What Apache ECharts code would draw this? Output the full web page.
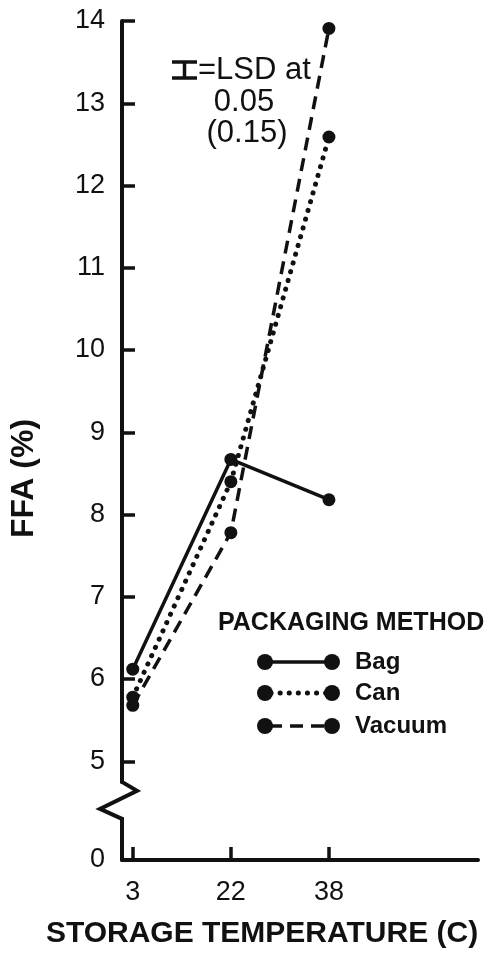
<!DOCTYPE html>
<html>
<head>
<meta charset="utf-8">
<script src="https://cdn.jsdelivr.net/npm/echarts@6/dist/echarts.min.js"></script>
<style>
html, body { margin: 0; padding: 0; background: #fff; }
#chart { width: 496px; height: 954px; }
</style>
</head>
<body>
<div id="chart"></div>
<script>
// storage temperature categories (C)
const temps = ['3', '22', '38'];
// FFA (%) per packaging method
const bag = [6.12, 8.67, 8.18];
const can = [5.78, 8.4, 12.59];
const vacuum = [5.68, 7.78, 13.91];
const yLabels = [0, 5, 6, 7, 8, 9, 10, 11, 12, 13, 14];
const yTicks = [5, 6, 7, 8, 9, 10, 11, 12, 13, 14];

const FONT = 'Liberation Sans';
const INK = '#111';
const X_MIN = -0.11;

// line style per method, reused by the hand-drawn legend
const methods = [
    { name: 'Bag', data: bag, line: { type: 'solid', width: 3.5 } },
    { name: 'Can', data: can, line: { type: [0.1, 9], width: 5, cap: 'round' } },
    { name: 'Vacuum', data: vacuum, line: { type: [13, 8], width: 3.5 } },
];

const chart = echarts.init(document.getElementById('chart'));

const option = {
    animation: false,
    grid: { left: 119, right: 18, top: 21, bottom: 92 },
    xAxis: {
        type: 'value',
        min: X_MIN,
        max: 3.52,
        name: 'STORAGE TEMPERATURE (C)',
        nameLocation: 'middle',
        nameGap: 59,
        nameTextStyle: { fontFamily: FONT, fontWeight: 'bold', fontSize: 30, color: INK, padding: [0, 76, 0, 0] },
        axisLine: { onZero: false, lineStyle: { color: INK, width: 4 } },
        axisTick: { inside: true, length: 13, lineStyle: { color: INK, width: 3.5 }, customValues: [0, 1, 2] },
        axisLabel: {
            customValues: [0, 1, 2],
            margin: 19,
            fontFamily: FONT, fontSize: 27, color: INK,
            formatter: v => temps[v]
        },
        splitLine: { show: false }
    },
    yAxis: {
        type: 'value',
        min: 0,
        max: 14,
        interval: 1,
        // gap is in axis units here
        breaks: [{ start: 0.5, end: 4.75, gap: 0.45 }],
        breakArea: {
            show: true,
            itemStyle: { color: 'rgba(0,0,0,0)', borderColor: 'rgba(0,0,0,0)', borderWidth: 0 },
            zigzagAmplitude: 0
        },
        name: 'FFA (%)',
        nameLocation: 'middle',
        nameRotate: 90,
        nameGap: 82,
        nameTextStyle: { fontFamily: FONT, fontWeight: 'bold', fontSize: 32, color: INK, padding: [0, 76, 0, 0] },
        axisLine: { show: true, onZero: false, lineStyle: { color: INK, width: 4 } },
        axisTick: { show: true, inside: true, length: 13, lineStyle: { color: INK, width: 3.5 }, customValues: yTicks },
        axisLabel: { customValues: yLabels, margin: 17, hideOverlap: false, fontFamily: FONT, fontSize: 27, color: INK },
        splitLine: { show: false }
    },
    series: methods.map(m => ({
        name: m.name,
        type: 'line',
        data: m.data.map((v, i) => [i, v]),
        symbol: 'circle',
        symbolSize: 13,
        itemStyle: { color: INK },
        lineStyle: { color: INK, width: m.line.width, type: m.line.type, cap: m.line.cap || 'butt' },
        z: 3
    }))
};

chart.setOption(option);

// axis break zigzag, LSD note and legend drawn as graphics
const ax = chart.convertToPixel({ xAxisIndex: 0 }, X_MIN);
const yTop = chart.convertToPixel({ yAxisIndex: 0 }, 4.75);
const yBot = chart.convertToPixel({ yAxisIndex: 0 }, 0.5);
const span = yBot - yTop;

const graphics = [
    {
        type: 'polyline',
        shape: { points: [[ax, yTop - 1], [ax, yTop], [ax + 15, yTop + span * 0.24], [ax - 22, yTop + span * 0.73], [ax, yBot], [ax, yBot + 1]] },
        style: { stroke: INK, lineWidth: 4, fill: null, lineJoin: 'miter' },
        z: 10
    },
    // LSD bar
    { type: 'line', shape: { x1: 172, y1: 62, x2: 197, y2: 62 }, style: { stroke: INK, lineWidth: 3.5 } },
    { type: 'line', shape: { x1: 172, y1: 78, x2: 197, y2: 78 }, style: { stroke: INK, lineWidth: 3.5 } },
    { type: 'line', shape: { x1: 184.5, y1: 62, x2: 184.5, y2: 78 }, style: { stroke: INK, lineWidth: 3.5 } },
    { type: 'text', x: 198, y: 70, style: { text: '=LSD at', font: '31px "' + FONT + '"', fill: INK, textVerticalAlign: 'middle' } },
    { type: 'text', x: 244, y: 102, style: { text: '0.05', font: '31px "' + FONT + '"', fill: INK, textAlign: 'center', textVerticalAlign: 'middle' } },
    { type: 'text', x: 247, y: 133, style: { text: '(0.15)', font: '31px "' + FONT + '"', fill: INK, textAlign: 'center', textVerticalAlign: 'middle' } },
    { type: 'text', x: 218, y: 623, style: { text: 'PACKAGING METHOD', font: 'bold 25px "' + FONT + '"', fill: INK, textVerticalAlign: 'middle' } }
];

const legendRows = [662, 693, 726];
methods.forEach((m, i) => {
    const y = legendRows[i];
    graphics.push({
        type: 'line',
        shape: { x1: 265, y1: y, x2: 332, y2: y },
        style: { stroke: INK, lineWidth: m.line.width, lineDash: m.line.type === 'solid' ? null : m.line.type, lineCap: m.line.cap || 'butt', lineDashOffset: m.name === 'Vacuum' ? -4 : -6 }
    });
    graphics.push({ type: 'circle', shape: { cx: 265, cy: y, r: 8 }, style: { fill: INK } });
    graphics.push({ type: 'circle', shape: { cx: 332, cy: y, r: 8 }, style: { fill: INK } });
    graphics.push({ type: 'text', x: 355, y: y, style: { text: m.name, font: 'bold 24px "' + FONT + '"', fill: INK, textVerticalAlign: 'middle' } });
});

chart.setOption({ graphic: graphics });

window.addEventListener('resize', () => chart.resize());
</script>
</body>
</html>
